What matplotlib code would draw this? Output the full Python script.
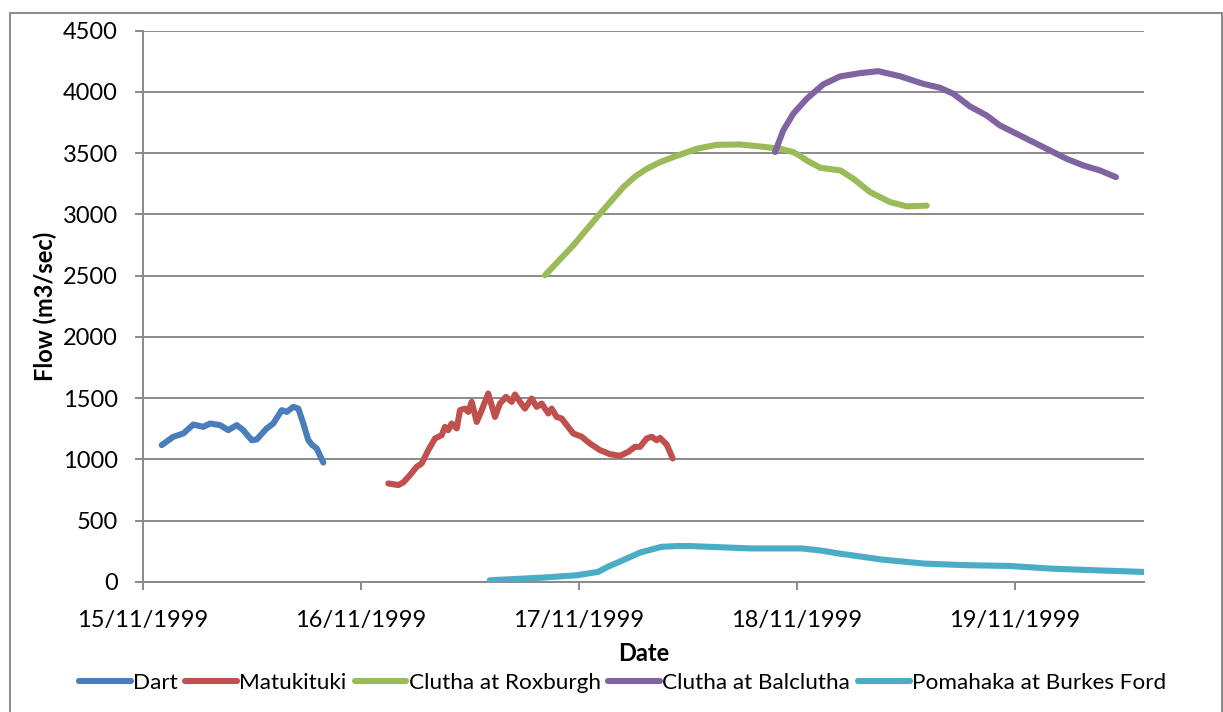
import matplotlib
matplotlib.use("Agg")
import matplotlib.pyplot as plt
import matplotlib.dates as mdates
from matplotlib.patches import Rectangle
import pandas as pd

plt.rcParams['font.family'] = ['Lato', 'DejaVu Sans']

START = pd.Timestamp("1999-11-15 00:00")

# hours after 15/11/1999 00:00, flow in m3/sec
dart_h = [2.06, 3.34, 4.44, 5.54, 6.64, 7.38, 8.48, 9.39, 10.32, 11.04, 11.97, 12.52,
          13.62, 14.34, 15.27, 15.82, 16.55, 17.10, 17.65, 18.20, 18.64, 19.12, 19.85]
dart_q = [1117, 1185, 1212, 1285, 1266, 1293, 1280, 1239, 1280, 1239, 1157, 1163,
          1253, 1293, 1402, 1388, 1429, 1415, 1293, 1157, 1117, 1090, 975]

matu_h = [27.01, 28.11, 28.66, 29.39, 30.13, 30.68, 31.41, 32.15, 32.88, 33.25, 33.61,
          33.98, 34.54, 34.90, 35.45, 35.81, 36.19, 36.74, 37.29, 38.01, 38.75, 39.30,
          39.96, 40.59, 40.95, 41.50, 42.05, 42.79, 43.34, 43.89, 44.62, 44.99, 45.54,
          46.09, 46.65, 47.37, 48.30, 49.21, 50.31, 51.41, 52.51, 53.43, 54.16, 54.72,
          55.45, 56.00, 56.55, 56.92, 57.65, 58.32]
matu_q = [804, 791, 813, 872, 940, 967, 1076, 1171, 1198, 1266, 1239,
          1293, 1253, 1402, 1415, 1388, 1470, 1306, 1402, 1538, 1347, 1456,
          1511, 1470, 1530, 1470, 1415, 1497, 1429, 1456, 1375, 1415, 1347,
          1334, 1280, 1212, 1185, 1130, 1076, 1043, 1030, 1062, 1103, 1103,
          1171, 1185, 1157, 1176, 1122, 1008]

rox_h = [44.26, 47.37, 50.31, 52.88, 54.2, 55.45, 56.9, 58.38, 60.96, 63.16, 65.73, 67.93,
         70.13, 71.59, 72.3, 73.07, 74.58, 76.78, 78.20, 80.04, 82.24, 84.08, 86.28]
rox_q = [2503, 2747, 3005, 3222, 3310, 3371, 3425, 3467, 3535, 3567, 3570, 3554,
         3535, 3508, 3478, 3440, 3380, 3358, 3291, 3182, 3100, 3065, 3071]

bal_h = [69.58, 70.49, 71.59, 73.07, 74.89, 76.73, 78.94, 80.95, 83.33, 85.90, 87.74,
         89.21, 91.05, 92.88, 94.35, 96.19, 98.02, 99.86, 101.69, 103.52, 105.36, 107.12]
bal_q = [3508, 3685, 3821, 3943, 4060, 4125, 4152, 4168, 4127, 4065, 4033,
         3984, 3880, 3807, 3725, 3657, 3589, 3521, 3453, 3399, 3358, 3304]

poma_h = [38.18, 44.01, 47.75, 50.08, 51.2, 52.42, 54.75, 57.08, 58.7, 60.35, 66.89, 72.50,
          74.5, 76.69, 81.36, 86.04, 90.71, 95.37, 100.04, 104.71, 110.20]
poma_q = [14, 36, 55, 82, 125, 164, 241, 287, 293, 293, 274, 274,
          258, 232, 183, 150, 137, 131, 109, 96, 82]

series = [
    ("Dart", dart_h, dart_q, "#4A7EBB"),
    ("Matukituki", matu_h, matu_q, "#C0504D"),
    ("Clutha at Roxburgh", rox_h, rox_q, "#9BBB59"),
    ("Clutha at Balclutha", bal_h, bal_q, "#8064A2"),
    ("Pomahaka at Burkes Ford", poma_h, poma_q, "#4BACC6"),
]

tick_dates = ["1999-11-15", "1999-11-16", "1999-11-17", "1999-11-18", "1999-11-19"]
tick_labels = ["15/11/1999", "16/11/1999", "17/11/1999", "18/11/1999", "19/11/1999"]
y_ticks = [0, 500, 1000, 1500, 2000, 2500, 3000, 3500, 4000, 4500]

fig = plt.figure(figsize=(12.23, 7.12), dpi=100)
ax = fig.add_axes([143/1223, 1 - 582/712, (1143.5 - 143)/1223, (582 - 30.5)/712])

def to_time(hours):
    return [START + pd.Timedelta(hours=h) for h in hours]

for name, h, q, c in series:
    ax.plot(to_time(h), q, color=c, lw=4.4, label=name,
            solid_joinstyle='round', solid_capstyle='round', zorder=3)

grid_c = "#8A8A8A"
ax.set_ylim(0, 4500)
ax.set_yticks(y_ticks)
ax.set_xlim(START, START + pd.Timedelta(hours=110.15))
ax.set_xticks([pd.Timestamp(d) for d in tick_dates])
ax.set_xticklabels(tick_labels)
ax.yaxis.grid(True, color=grid_c, lw=1.4)
ax.set_axisbelow(True)
for s in ["top", "right"]:
    ax.spines[s].set_visible(False)
for s in ["left", "bottom"]:
    ax.spines[s].set_color(grid_c)
    ax.spines[s].set_linewidth(1.4)
ax.tick_params(axis='both', colors=grid_c, width=1.4, length=6, labelsize=17,
               labelcolor='black', direction='out')
ax.tick_params(axis='y', pad=12)
ax.tick_params(axis='x', pad=14)

ax.set_xlabel("Date", fontsize=17, fontweight='bold', labelpad=8)
ax.set_ylabel("Flow (m3/sec)", fontsize=17, fontweight='bold', labelpad=4)

leg = fig.legend(loc='center', bbox_to_anchor=(0.509, 1 - 683/712), ncol=5,
                 frameon=False, fontsize=16.2, handlelength=2.3, handletextpad=0.1,
                 columnspacing=0.35, borderaxespad=0)

fig.patches.append(Rectangle((10/1223, -0.05), (1222 - 10)/1223, 0.05 + (1 - 13/712),
                             transform=fig.transFigure, fill=False,
                             edgecolor=grid_c, lw=1.4))

fig.savefig("out.png", dpi=100)
